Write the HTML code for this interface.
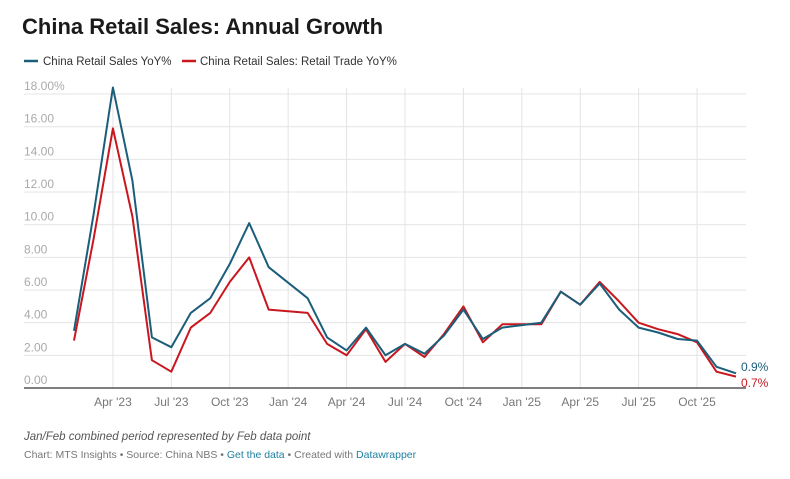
<!DOCTYPE html>
<html><head><meta charset="utf-8"><style>
body{margin:0;background:#fff;font-family:"Liberation Sans",sans-serif;}
</style></head><body>
<svg id="s" width="790" height="474" xmlns="http://www.w3.org/2000/svg" font-family="Liberation Sans, sans-serif">
<text x="22" y="34" font-size="22" font-weight="bold" fill="#1a1a1a">China Retail Sales: Annual Growth</text>
<line x1="24" y1="61" x2="38" y2="61" stroke="#1b5e7a" stroke-width="2.5"/>
<text x="43" y="65" font-size="11.5" fill="#333">China Retail Sales YoY%</text>
<line x1="182" y1="61" x2="196" y2="61" stroke="#c8171e" stroke-width="2.5"/>
<text x="200" y="65" font-size="11.5" fill="#333">China Retail Sales: Retail Trade YoY%</text>
<g id="g"></g>
<text x="24" y="440" font-size="11.5" font-style="italic" fill="#555">Jan/Feb combined period represented by Feb data point</text>
<text x="24" y="458" font-size="10.5" fill="#777">Chart: MTS Insights • Source: China NBS • <tspan fill="#1d81a2">Get the data</tspan> • Created with <tspan fill="#1d81a2">Datawrapper</tspan></text>
</svg>
<script>
var g=document.getElementById('g'),h='';
function Y(v){return 388-16.33*v;}
function X(m){return 74+19.47*m;}
for(var v=0;v<=18;v+=2){var y=Y(v);if(v>0)h+='<line x1="24" x2="746" y1="'+y+'" y2="'+y+'" stroke="#e4e4e4"/>';
h+='<text x="24" y="'+(y-4)+'" font-size="12" fill="#aaa">'+(v.toFixed(2))+(v==18?'%':'')+'</text>';}
var xl=[[2,"Apr '23"],[5,"Jul '23"],[8,"Oct '23"],[11,"Jan '24"],[14,"Apr '24"],[17,"Jul '24"],[20,"Oct '24"],[23,"Jan '25"],[26,"Apr '25"],[29,"Jul '25"],[32,"Oct '25"]];
xl.forEach(function(a){var x=X(a[0]);h+='<line x1="'+x+'" x2="'+x+'" y1="88" y2="388" stroke="#e4e4e4"/>';h+='<text x="'+x+'" y="406" font-size="12" fill="#777" text-anchor="middle">'+a[1]+'</text>';});
h+='<line x1="24" x2="746" y1="388" y2="388" stroke="#333" stroke-width="1.2"/>';
var ms=[0,1,2,3,4,5,6,7,8,9,10,12,13,14,15,16,17,18,19,20,21,22,24,25,26,27,28,29,30,31,32,33,34];
var b=[3.5,10.6,18.4,12.7,3.1,2.5,4.6,5.5,7.6,10.1,7.4,5.5,3.1,2.3,3.7,2.0,2.7,2.1,3.2,4.8,3.0,3.7,4.0,5.9,5.1,6.4,4.8,3.7,3.4,3.0,2.9,1.3,0.9];
var r=[2.9,9.1,15.9,10.5,1.7,1.0,3.7,4.6,6.5,8.0,4.8,4.6,2.7,2.0,3.6,1.6,2.7,1.9,3.3,5.0,2.8,3.9,3.9,5.9,5.1,6.5,5.3,4.0,3.6,3.3,2.8,1.0,0.7];
function pl(d,c){return '<polyline fill="none" stroke="'+c+'" stroke-width="2" stroke-linejoin="round" points="'+d.map(function(v,i){return X(ms[i]).toFixed(1)+','+Y(v).toFixed(1);}).join(' ')+'"/>';}
h+=pl(r,'#c8171e')+pl(b,'#1b5e7a');
h+='<text x="741" y="371" font-size="12" fill="#1b5e7a">0.9%</text><text x="741" y="387" font-size="12" fill="#c8171e">0.7%</text>';
g.innerHTML=h;
</script>
</body></html>
